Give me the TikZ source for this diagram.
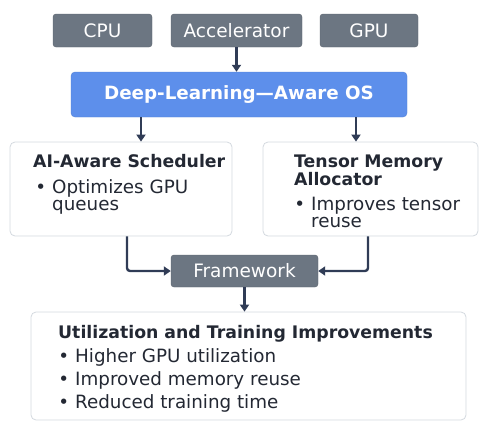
\documentclass[tikz,border=0pt]{standalone}
\usepackage{fontspec}
\setmainfont{DejaVu Sans}
\usetikzlibrary{arrows.meta,positioning}

\definecolor{slate}{HTML}{6C7682}
\definecolor{osblue}{HTML}{5D8FEB}
\definecolor{navy}{HTML}{303C56}
\definecolor{rim}{HTML}{D4D9DF}
\definecolor{ink}{HTML}{232833}

\newcommand{\bul}{\llap{\textbullet\hspace{6pt}}}

\tikzset{
  hwbox/.style={fill=slate, draw=slate!85!black, rounded corners=3pt, text=white,
    font=\fontsize{18.5}{22}\selectfont, inner sep=0pt},
  panel/.style={fill=white, draw=rim, line width=0.8pt, rounded corners=5pt, inner sep=0pt},
  head/.style={anchor=base west, inner sep=0pt, text=ink, font=\fontsize{17.3}{20}\selectfont\bfseries},
  item/.style={anchor=base west, inner sep=0pt, text=ink, font=\fontsize{18.3}{22}\selectfont},
  flow/.style={draw=navy, line width=2.4pt, -{Triangle[length=7pt,width=9pt]}}
}

\begin{document}
\begin{tikzpicture}[x=1pt,y=-1pt]
	\useasboundingbox (0,0) rectangle (480,421);

	% hardware row
	\node[hwbox, minimum width=99pt, minimum height=33pt] (cpu) at (102.5,30.5) {CPU};
	\node[hwbox, minimum width=131pt, minimum height=33pt] (acc) at (236.5,30.5) {Accelerator};
	\node[hwbox, minimum width=98pt, minimum height=33pt] (gpu) at (369,30.5) {GPU};

	% operating system
	\node[fill=osblue, draw=osblue!90!black, rounded corners=4pt, text=white, inner sep=0pt,
	      font=\fontsize{18.3}{22}\selectfont\bfseries,
	      minimum width=336pt, minimum height=45pt] (os) at (239,94.5) {Deep-Learning---Aware OS};

	% scheduler and allocator
	\node[panel, minimum width=222pt, minimum height=94pt] (sched) at (121,189) {};
	\node[panel, minimum width=215pt, minimum height=94pt] (tensor) at (370.5,189) {};

	\node[head] (schedT) at (33,167) {AI-Aware Scheduler};
	\node[item] (schedA) at (52,193) {\bul Optimizes GPU};
	\node[item] (schedB) at (52,210) {queues};

	\node[head] (tensorT) at (294,167) {Tensor Memory};
	\node[head] (tensorU) at (294,185) {Allocator};
	\node[item] (tensorA) at (311,210) {\bul Improves tensor};
	\node[item] (tensorB) at (311,227) {reuse};

	% framework
	\node[hwbox, minimum width=147pt, minimum height=32pt] (fw) at (244.5,271) {Framework};

	% results
	\node[panel, minimum width=435pt, minimum height=108pt] (result) at (248.5,366) {};
	\node[head] (resT) at (58,338) {Utilization and Training Improvements};
	\node[item] (resA) at (75,362) {\bul Higher GPU utilization};
	\node[item] (resB) at (75,385) {\bul Improved memory reuse};
	\node[item] (resC) at (75,408) {\bul Reduced training time};

	% arrows
	\draw[flow] (acc.south) -- (acc.south |- os.north);
	\draw[flow] ([xshift=20pt]os.south -| sched.north) -- ([xshift=20pt]sched.north);
	\draw[flow] ([xshift=-14.5pt]os.south -| tensor.north) -- ([xshift=-14.5pt]tensor.north);
	\draw[flow, rounded corners=3pt] ([xshift=6pt]sched.south) |- (fw.west);
	\draw[flow, rounded corners=3pt] ([xshift=-2.5pt]tensor.south) |- (fw.east);
	\draw[flow] (fw.south) -- (fw.south |- result.north);

\end{tikzpicture}
\end{document}
